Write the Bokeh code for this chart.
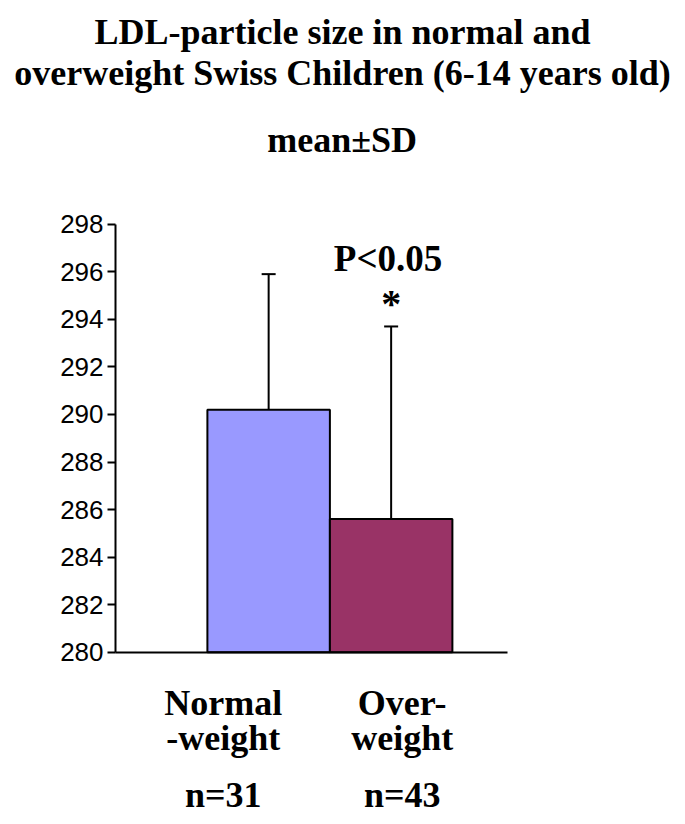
from bokeh.plotting import figure
from bokeh.models import (ColumnDataSource, FixedTicker, Range1d, Whisker, TeeHead)
from bokeh.core.properties import value
from bokeh.embed import file_html
from bokeh.resources import INLINE

# ---- data ----
categories = ["Normal-weight", "Over-weight"]
label_line1 = ["Normal", "Over-"]
label_line2 = ["-weight", "weight"]
n_labels = ["n=31", "n=43"]
means = [290.2, 285.6]
sds = [5.7, 8.1]
colors = ["#9999FF", "#993366"]
y_ticks = [280, 282, 284, 286, 288, 290, 292, 294, 296, 298]
title_lines = ["LDL-particle size in normal and",
               "overweight Swiss Children (6-14 years old)"]
subtitle = "mean\u00b1SD"
p_text = "P<0.05"
star = "*"

# ---- layout ----
x_pos = [1.25 + i for i in range(len(categories))]
label_offsets = [-0.37, 0.09]
upper = [m + s for m, s in zip(means, sds)]

p = figure(width=685, height=824, output_backend="svg", toolbar_location=None,
           x_range=Range1d(-0.939, 4.653), y_range=Range1d(272.76, 307.405),
           min_border=0)
p.outline_line_color = None
p.xgrid.visible = False
p.ygrid.visible = False
p.background_fill_color = "white"
p.border_fill_color = "white"

src = ColumnDataSource(dict(x=x_pos, top=means, upper=upper, color=colors))
p.vbar(x="x", top="top", bottom=280, width=1.0, fill_color="color",
       line_color="black", line_width=2, source=src)

wh = Whisker(source=src, base="x", lower="top", upper="upper",
             upper_head=TeeHead(size=14, line_width=2, line_color="black"),
             lower_head=None, line_width=2, line_color="black")
p.add_layout(wh)

# y axis
p.yaxis.fixed_location = 0
p.yaxis.bounds = (280, 298)
p.yaxis.ticker = FixedTicker(ticks=y_ticks)
p.yaxis.axis_line_width = 2
p.yaxis.axis_line_color = "black"
p.yaxis.major_tick_line_width = 2
p.yaxis.major_tick_in = 0
p.yaxis.major_tick_out = 8
p.yaxis.minor_tick_line_color = None
p.yaxis.major_label_text_font = "Liberation Sans"
p.yaxis.major_label_text_font_size = "26px"
p.yaxis.major_label_text_color = "black"
p.yaxis.major_label_standoff = 4

# x axis: just a baseline
p.xaxis.fixed_location = 280
p.xaxis.bounds = (0, 3.2)
p.xaxis.ticker = FixedTicker(ticks=[])
p.xaxis.axis_line_width = 2
p.xaxis.axis_line_color = "black"
p.xaxis.major_tick_line_color = None
p.xaxis.minor_tick_line_color = None
p.xaxis.major_label_text_font_size = "0px"

def add_text(xs, ys, texts, size="36px"):
    p.text(x=xs, y=ys, text=texts, text_font=value("Liberation Serif"),
           text_font_style="bold", text_font_size=size,
           text_align="center", text_baseline="alphabetic", text_color="black")

# titles
add_text([1.853, 1.853, 1.85], [306.07, 304.35, 301.53],
         [title_lines[0], title_lines[1], subtitle])

# significance
add_text([x_pos[1] - 0.025], [296.57], [p_text], size="37px")
add_text([x_pos[1]], [294.67], [star], size="40px")

# category labels
cx = [x_pos[i] + label_offsets[i] for i in range(len(categories))]
add_text(cx, [277.85] * 2, label_line1)
add_text(cx, [276.40] * 2, label_line2)
add_text(cx, [274.02] * 2, n_labels)

open("out.html", "w").write(file_html(p, INLINE))
